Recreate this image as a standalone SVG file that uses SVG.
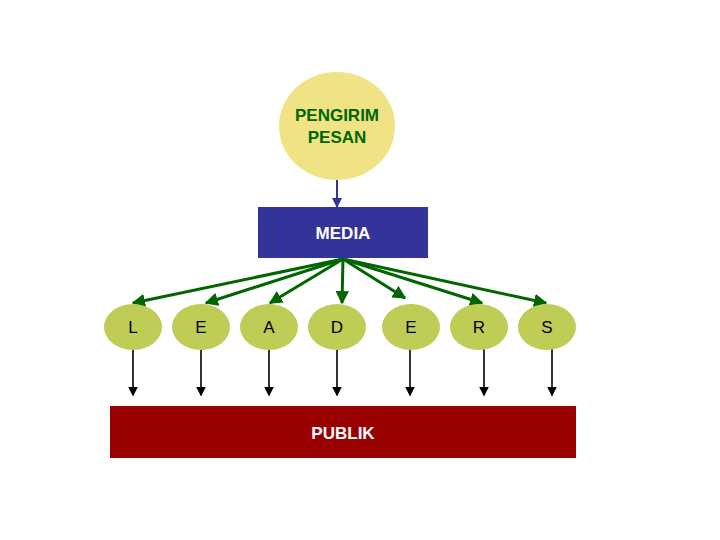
<svg xmlns="http://www.w3.org/2000/svg" width="720" height="540" viewBox="0 0 720 540">
<style>
.lbl{font-family:"Liberation Sans",Arial,sans-serif;font-size:17px;text-anchor:middle}
.b{font-weight:bold}
.node{fill:#BFCC55}
.g{stroke:#006600;stroke-width:3;fill:none}
.k{stroke:#000;stroke-width:1.6;fill:none}
</style>
<defs>
<marker id="ag" markerWidth="4.5" markerHeight="4.5" refX="4" refY="2.25" orient="auto" markerUnits="strokeWidth"><path d="M0,0 L4.5,2.25 L0,4.5 Z" fill="#006600"/></marker>
<marker id="ak" markerWidth="6" markerHeight="6" refX="5" refY="3" orient="auto" markerUnits="strokeWidth"><path d="M0,0 L6,3 L0,6 Z" fill="#000"/></marker>
<marker id="ab" markerWidth="5" markerHeight="5" refX="4.5" refY="2.5" orient="auto" markerUnits="strokeWidth"><path d="M0,0 L5,2.5 L0,5 Z" fill="#333399"/></marker>
</defs>
<rect width="720" height="540" fill="#fff"/>
<g id="connectors">
<line x1="337" y1="180" x2="337" y2="207" stroke="#333399" stroke-width="2" marker-end="url(#ab)"/>
<line class="g" x1="343" y1="259" x2="133" y2="303" marker-end="url(#ag)"/>
<line class="g" x1="343" y1="259" x2="206" y2="303" marker-end="url(#ag)"/>
<line class="g" x1="343" y1="259" x2="270" y2="303" marker-end="url(#ag)"/>
<line class="g" x1="343" y1="259" x2="342" y2="303" marker-end="url(#ag)"/>
<line class="g" x1="343" y1="259" x2="405" y2="298" marker-end="url(#ag)"/>
<line class="g" x1="343" y1="259" x2="482" y2="303" marker-end="url(#ag)"/>
<line class="g" x1="343" y1="259" x2="546" y2="303" marker-end="url(#ag)"/>
<line class="k" x1="133" y1="349" x2="133" y2="395" marker-end="url(#ak)"/>
<line class="k" x1="201" y1="349" x2="201" y2="395" marker-end="url(#ak)"/>
<line class="k" x1="269" y1="349" x2="269" y2="395" marker-end="url(#ak)"/>
<line class="k" x1="337" y1="349" x2="337" y2="395" marker-end="url(#ak)"/>
<line class="k" x1="410" y1="349" x2="410" y2="395" marker-end="url(#ak)"/>
<line class="k" x1="484" y1="349" x2="484" y2="395" marker-end="url(#ak)"/>
<line class="k" x1="552" y1="349" x2="552" y2="395" marker-end="url(#ak)"/>
</g>
<g id="pengirim">
<ellipse cx="337" cy="126" rx="58" ry="54" fill="#F0E386"/>
<text class="lbl b" x="337" y="121" fill="#006600" font-size="18">PENGIRIM</text>
<text class="lbl b" x="337" y="143" fill="#006600" font-size="18">PESAN</text>
</g>
<g id="media">
<rect x="258" y="207" width="170" height="51" fill="#333399"/>
<text class="lbl b" x="343" y="239" fill="#fff">MEDIA</text>
</g>
<g id="n-L"><ellipse class="node" cx="133" cy="327" rx="29" ry="23"/><text class="lbl" x="133" y="333">L</text></g>
<g id="n-E1"><ellipse class="node" cx="201" cy="327" rx="29" ry="23"/><text class="lbl" x="201" y="333">E</text></g>
<g id="n-A"><ellipse class="node" cx="269" cy="327" rx="29" ry="23"/><text class="lbl" x="269" y="333">A</text></g>
<g id="n-D"><ellipse class="node" cx="337" cy="327" rx="29" ry="23"/><text class="lbl" x="337" y="333">D</text></g>
<g id="n-E2"><ellipse class="node" cx="411" cy="327" rx="29" ry="23"/><text class="lbl" x="411" y="333">E</text></g>
<g id="n-R"><ellipse class="node" cx="479" cy="327" rx="29" ry="23"/><text class="lbl" x="479" y="333">R</text></g>
<g id="n-S"><ellipse class="node" cx="547" cy="327" rx="29" ry="23"/><text class="lbl" x="547" y="333">S</text></g>
<g id="publik">
<rect x="110" y="406" width="466" height="52" fill="#990000"/>
<text class="lbl b" x="343" y="439" fill="#fff">PUBLIK</text>
</g>
</svg>
